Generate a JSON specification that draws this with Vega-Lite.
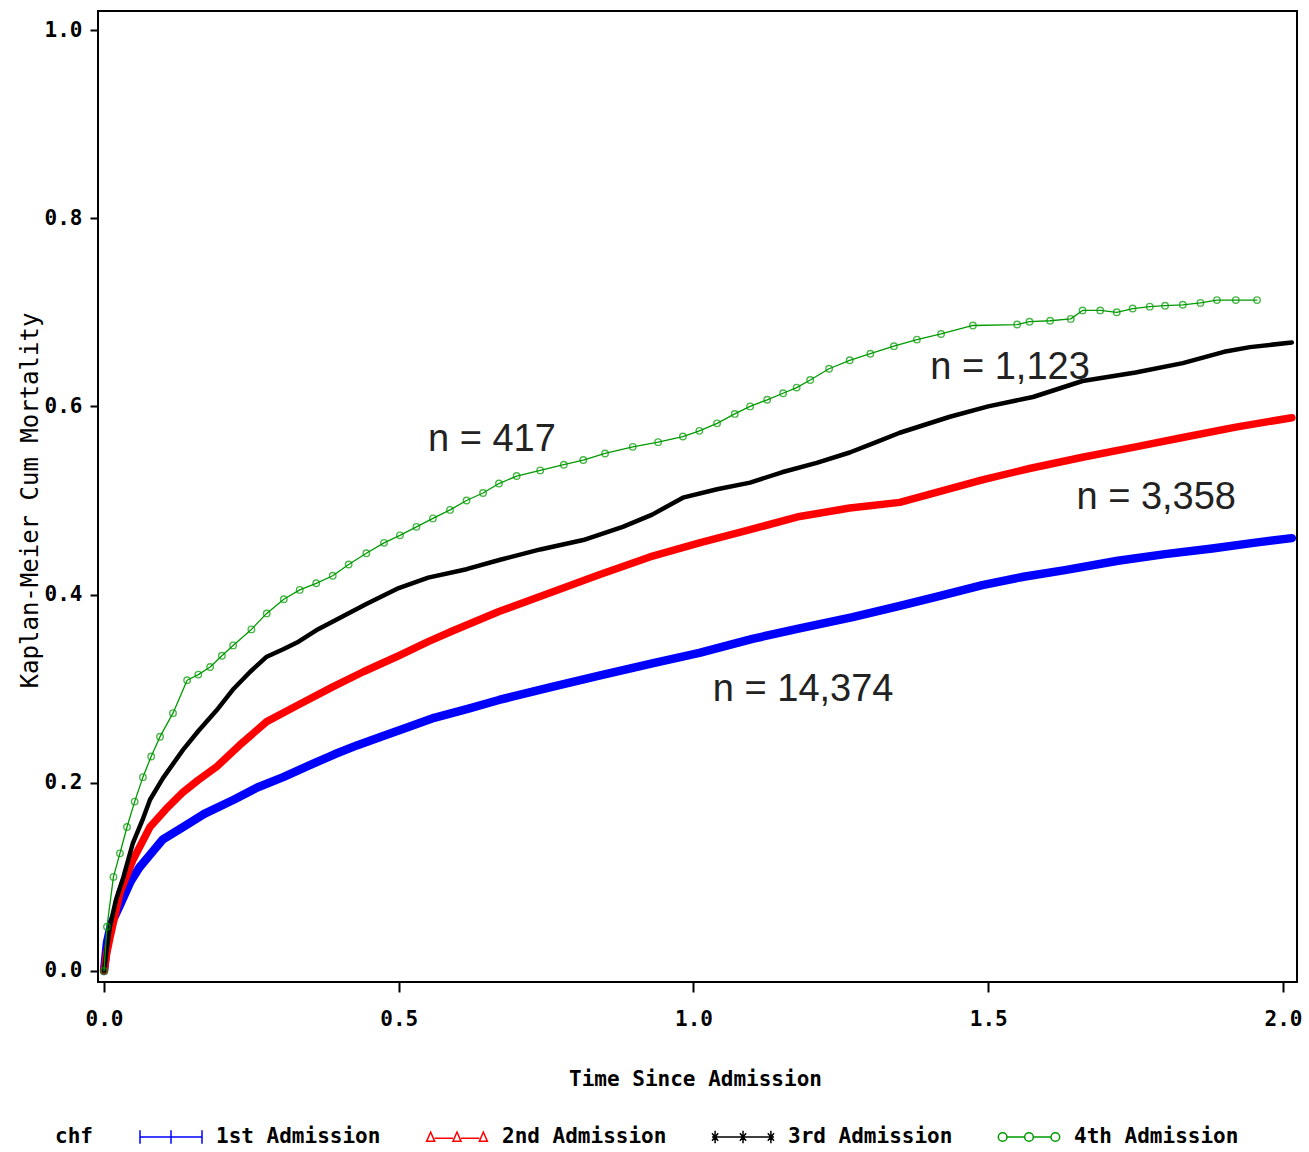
{
  "$schema": "https://vega.github.io/schema/vega-lite/v6.json",
  "width": 1199,
  "height": 971,
  "autosize": {"type": "none"},
  "padding": {"left": 98, "top": 11, "right": 12, "bottom": 170},
  "background": "white",
  "config": {
    "view": {"stroke": "black", "strokeWidth": 2},
    "axis": {
      "domain": false,
      "grid": false,
      "tickColor": "black",
      "tickWidth": 2,
      "labelFont": "DejaVu Sans Mono",
      "labelFontWeight": "bold",
      "labelFontSize": 21,
      "labelColor": "black",
      "titleFont": "DejaVu Sans Mono",
      "titleColor": "black"
    }
  },
  "datasets": {
    "km": [
      {"s": "1st Admission", "t": 0, "v": 0},
      {"s": "1st Admission", "t": 0.005, "v": 0.03},
      {"s": "1st Admission", "t": 0.012, "v": 0.05},
      {"s": "1st Admission", "t": 0.027, "v": 0.07},
      {"s": "1st Admission", "t": 0.045, "v": 0.095},
      {"s": "1st Admission", "t": 0.06, "v": 0.11},
      {"s": "1st Admission", "t": 0.08, "v": 0.125},
      {"s": "1st Admission", "t": 0.1, "v": 0.14},
      {"s": "1st Admission", "t": 0.134, "v": 0.153},
      {"s": "1st Admission", "t": 0.17, "v": 0.167},
      {"s": "1st Admission", "t": 0.22, "v": 0.182},
      {"s": "1st Admission", "t": 0.26, "v": 0.195},
      {"s": "1st Admission", "t": 0.304, "v": 0.206},
      {"s": "1st Admission", "t": 0.35, "v": 0.219},
      {"s": "1st Admission", "t": 0.39, "v": 0.23},
      {"s": "1st Admission", "t": 0.43, "v": 0.24},
      {"s": "1st Admission", "t": 0.47, "v": 0.249},
      {"s": "1st Admission", "t": 0.52, "v": 0.26},
      {"s": "1st Admission", "t": 0.56, "v": 0.269},
      {"s": "1st Admission", "t": 0.62, "v": 0.279},
      {"s": "1st Admission", "t": 0.67, "v": 0.288},
      {"s": "1st Admission", "t": 0.76, "v": 0.302},
      {"s": "1st Admission", "t": 0.84, "v": 0.314},
      {"s": "1st Admission", "t": 0.93, "v": 0.327},
      {"s": "1st Admission", "t": 1.01, "v": 0.338},
      {"s": "1st Admission", "t": 1.1, "v": 0.353},
      {"s": "1st Admission", "t": 1.18, "v": 0.364},
      {"s": "1st Admission", "t": 1.27, "v": 0.376},
      {"s": "1st Admission", "t": 1.35, "v": 0.388},
      {"s": "1st Admission", "t": 1.42, "v": 0.399},
      {"s": "1st Admission", "t": 1.49, "v": 0.41},
      {"s": "1st Admission", "t": 1.56, "v": 0.419},
      {"s": "1st Admission", "t": 1.63, "v": 0.426},
      {"s": "1st Admission", "t": 1.72, "v": 0.436},
      {"s": "1st Admission", "t": 1.8, "v": 0.443},
      {"s": "1st Admission", "t": 1.88, "v": 0.449},
      {"s": "1st Admission", "t": 1.95, "v": 0.455},
      {"s": "1st Admission", "t": 2.015, "v": 0.46},

      {"s": "2nd Admission", "t": 0, "v": 0},
      {"s": "2nd Admission", "t": 0.005, "v": 0.02},
      {"s": "2nd Admission", "t": 0.01, "v": 0.035},
      {"s": "2nd Admission", "t": 0.027, "v": 0.083},
      {"s": "2nd Admission", "t": 0.049, "v": 0.118},
      {"s": "2nd Admission", "t": 0.078, "v": 0.153},
      {"s": "2nd Admission", "t": 0.105, "v": 0.172},
      {"s": "2nd Admission", "t": 0.134, "v": 0.19},
      {"s": "2nd Admission", "t": 0.16, "v": 0.203},
      {"s": "2nd Admission", "t": 0.191, "v": 0.217},
      {"s": "2nd Admission", "t": 0.23, "v": 0.24},
      {"s": "2nd Admission", "t": 0.276, "v": 0.265},
      {"s": "2nd Admission", "t": 0.33, "v": 0.283},
      {"s": "2nd Admission", "t": 0.388, "v": 0.302},
      {"s": "2nd Admission", "t": 0.44, "v": 0.318},
      {"s": "2nd Admission", "t": 0.5, "v": 0.335},
      {"s": "2nd Admission", "t": 0.55, "v": 0.35},
      {"s": "2nd Admission", "t": 0.59, "v": 0.361},
      {"s": "2nd Admission", "t": 0.67, "v": 0.382},
      {"s": "2nd Admission", "t": 0.757, "v": 0.402},
      {"s": "2nd Admission", "t": 0.84, "v": 0.421},
      {"s": "2nd Admission", "t": 0.926, "v": 0.44},
      {"s": "2nd Admission", "t": 1.01, "v": 0.455},
      {"s": "2nd Admission", "t": 1.096, "v": 0.469},
      {"s": "2nd Admission", "t": 1.18, "v": 0.483},
      {"s": "2nd Admission", "t": 1.265, "v": 0.492},
      {"s": "2nd Admission", "t": 1.35, "v": 0.498},
      {"s": "2nd Admission", "t": 1.42, "v": 0.51},
      {"s": "2nd Admission", "t": 1.49, "v": 0.522},
      {"s": "2nd Admission", "t": 1.57, "v": 0.534},
      {"s": "2nd Admission", "t": 1.66, "v": 0.546},
      {"s": "2nd Admission", "t": 1.75, "v": 0.557},
      {"s": "2nd Admission", "t": 1.83, "v": 0.567},
      {"s": "2nd Admission", "t": 1.92, "v": 0.578},
      {"s": "2nd Admission", "t": 2.015, "v": 0.588},

      {"s": "3rd Admission", "t": 0, "v": 0},
      {"s": "3rd Admission", "t": 0.005, "v": 0.025},
      {"s": "3rd Admission", "t": 0.01, "v": 0.047},
      {"s": "3rd Admission", "t": 0.02, "v": 0.075},
      {"s": "3rd Admission", "t": 0.033, "v": 0.1},
      {"s": "3rd Admission", "t": 0.049, "v": 0.136},
      {"s": "3rd Admission", "t": 0.065, "v": 0.16},
      {"s": "3rd Admission", "t": 0.078, "v": 0.182},
      {"s": "3rd Admission", "t": 0.1, "v": 0.205},
      {"s": "3rd Admission", "t": 0.134, "v": 0.235},
      {"s": "3rd Admission", "t": 0.16, "v": 0.255},
      {"s": "3rd Admission", "t": 0.191, "v": 0.277},
      {"s": "3rd Admission", "t": 0.22, "v": 0.3},
      {"s": "3rd Admission", "t": 0.248, "v": 0.318},
      {"s": "3rd Admission", "t": 0.276, "v": 0.334},
      {"s": "3rd Admission", "t": 0.304, "v": 0.342},
      {"s": "3rd Admission", "t": 0.33, "v": 0.35},
      {"s": "3rd Admission", "t": 0.36, "v": 0.362},
      {"s": "3rd Admission", "t": 0.39, "v": 0.372},
      {"s": "3rd Admission", "t": 0.445, "v": 0.39},
      {"s": "3rd Admission", "t": 0.5, "v": 0.407},
      {"s": "3rd Admission", "t": 0.55, "v": 0.418},
      {"s": "3rd Admission", "t": 0.615, "v": 0.427},
      {"s": "3rd Admission", "t": 0.672, "v": 0.437},
      {"s": "3rd Admission", "t": 0.74, "v": 0.448},
      {"s": "3rd Admission", "t": 0.813, "v": 0.458},
      {"s": "3rd Admission", "t": 0.88, "v": 0.472},
      {"s": "3rd Admission", "t": 0.93, "v": 0.485},
      {"s": "3rd Admission", "t": 0.982, "v": 0.503},
      {"s": "3rd Admission", "t": 1.04, "v": 0.512},
      {"s": "3rd Admission", "t": 1.096, "v": 0.519},
      {"s": "3rd Admission", "t": 1.15, "v": 0.53},
      {"s": "3rd Admission", "t": 1.209, "v": 0.54},
      {"s": "3rd Admission", "t": 1.265, "v": 0.551},
      {"s": "3rd Admission", "t": 1.31, "v": 0.562},
      {"s": "3rd Admission", "t": 1.35, "v": 0.572},
      {"s": "3rd Admission", "t": 1.435, "v": 0.589},
      {"s": "3rd Admission", "t": 1.5, "v": 0.6},
      {"s": "3rd Admission", "t": 1.576, "v": 0.61},
      {"s": "3rd Admission", "t": 1.66, "v": 0.627},
      {"s": "3rd Admission", "t": 1.75, "v": 0.636},
      {"s": "3rd Admission", "t": 1.83, "v": 0.646},
      {"s": "3rd Admission", "t": 1.9, "v": 0.658},
      {"s": "3rd Admission", "t": 1.944, "v": 0.663},
      {"s": "3rd Admission", "t": 2.015, "v": 0.668},

      {"s": "4th Admission", "t": 0, "v": 0},
      {"s": "4th Admission", "t": 0.005, "v": 0.047},
      {"s": "4th Admission", "t": 0.016, "v": 0.1},
      {"s": "4th Admission", "t": 0.027, "v": 0.125},
      {"s": "4th Admission", "t": 0.039, "v": 0.153},
      {"s": "4th Admission", "t": 0.052, "v": 0.18},
      {"s": "4th Admission", "t": 0.066, "v": 0.206},
      {"s": "4th Admission", "t": 0.08, "v": 0.228},
      {"s": "4th Admission", "t": 0.095, "v": 0.249},
      {"s": "4th Admission", "t": 0.117, "v": 0.274},
      {"s": "4th Admission", "t": 0.141, "v": 0.309},
      {"s": "4th Admission", "t": 0.16, "v": 0.315},
      {"s": "4th Admission", "t": 0.18, "v": 0.323},
      {"s": "4th Admission", "t": 0.2, "v": 0.335},
      {"s": "4th Admission", "t": 0.219, "v": 0.346},
      {"s": "4th Admission", "t": 0.25, "v": 0.363},
      {"s": "4th Admission", "t": 0.276, "v": 0.38},
      {"s": "4th Admission", "t": 0.305, "v": 0.395},
      {"s": "4th Admission", "t": 0.332, "v": 0.405},
      {"s": "4th Admission", "t": 0.36, "v": 0.412},
      {"s": "4th Admission", "t": 0.388, "v": 0.42},
      {"s": "4th Admission", "t": 0.415, "v": 0.432},
      {"s": "4th Admission", "t": 0.445, "v": 0.444},
      {"s": "4th Admission", "t": 0.475, "v": 0.455},
      {"s": "4th Admission", "t": 0.502, "v": 0.463},
      {"s": "4th Admission", "t": 0.53, "v": 0.472},
      {"s": "4th Admission", "t": 0.558, "v": 0.481},
      {"s": "4th Admission", "t": 0.587, "v": 0.49},
      {"s": "4th Admission", "t": 0.615, "v": 0.5},
      {"s": "4th Admission", "t": 0.643, "v": 0.508},
      {"s": "4th Admission", "t": 0.67, "v": 0.518},
      {"s": "4th Admission", "t": 0.7, "v": 0.526},
      {"s": "4th Admission", "t": 0.74, "v": 0.532},
      {"s": "4th Admission", "t": 0.78, "v": 0.538},
      {"s": "4th Admission", "t": 0.813, "v": 0.543},
      {"s": "4th Admission", "t": 0.85, "v": 0.55},
      {"s": "4th Admission", "t": 0.897, "v": 0.557},
      {"s": "4th Admission", "t": 0.94, "v": 0.562},
      {"s": "4th Admission", "t": 0.982, "v": 0.568},
      {"s": "4th Admission", "t": 1.01, "v": 0.574},
      {"s": "4th Admission", "t": 1.04, "v": 0.582},
      {"s": "4th Admission", "t": 1.07, "v": 0.592},
      {"s": "4th Admission", "t": 1.096, "v": 0.6},
      {"s": "4th Admission", "t": 1.125, "v": 0.607},
      {"s": "4th Admission", "t": 1.152, "v": 0.614},
      {"s": "4th Admission", "t": 1.175, "v": 0.62},
      {"s": "4th Admission", "t": 1.198, "v": 0.628},
      {"s": "4th Admission", "t": 1.23, "v": 0.64},
      {"s": "4th Admission", "t": 1.265, "v": 0.649},
      {"s": "4th Admission", "t": 1.3, "v": 0.656},
      {"s": "4th Admission", "t": 1.34, "v": 0.664},
      {"s": "4th Admission", "t": 1.379, "v": 0.671},
      {"s": "4th Admission", "t": 1.42, "v": 0.677},
      {"s": "4th Admission", "t": 1.474, "v": 0.686},
      {"s": "4th Admission", "t": 1.549, "v": 0.687},
      {"s": "4th Admission", "t": 1.57, "v": 0.69},
      {"s": "4th Admission", "t": 1.605, "v": 0.691},
      {"s": "4th Admission", "t": 1.64, "v": 0.693},
      {"s": "4th Admission", "t": 1.66, "v": 0.702},
      {"s": "4th Admission", "t": 1.69, "v": 0.702},
      {"s": "4th Admission", "t": 1.718, "v": 0.7},
      {"s": "4th Admission", "t": 1.745, "v": 0.704},
      {"s": "4th Admission", "t": 1.774, "v": 0.706},
      {"s": "4th Admission", "t": 1.8, "v": 0.707},
      {"s": "4th Admission", "t": 1.83, "v": 0.708},
      {"s": "4th Admission", "t": 1.86, "v": 0.71},
      {"s": "4th Admission", "t": 1.888, "v": 0.713},
      {"s": "4th Admission", "t": 1.92, "v": 0.713},
      {"s": "4th Admission", "t": 1.956, "v": 0.713}
    ],
    "notes": [
      {"t": 0.658, "v": 0.564, "text": "n = 417"},
      {"t": 1.537, "v": 0.641, "text": "n = 1,123"},
      {"t": 1.785, "v": 0.503, "text": "n = 3,358"},
      {"t": 1.186, "v": 0.299, "text": "n = 14,374"}
    ]
  },
  "encoding": {
    "x": {
      "field": "t", "type": "quantitative",
      "scale": {"domain": [-0.0102, 2.0238], "nice": false, "zero": false},
      "axis": {
        "values": [0, 0.5, 1, 1.5, 2], "format": ".1f",
        "tickSize": 10, "labelPadding": 16,
        "title": "Time Since Admission",
        "titleFontSize": 21, "titleFontWeight": "bold",
        "titleX": 597, "titleY": 97, "titleBaseline": "middle"
      }
    },
    "y": {
      "field": "v", "type": "quantitative",
      "scale": {"domain": [-0.0117, 1.0202], "nice": false, "zero": false},
      "axis": {
        "values": [0, 0.2, 0.4, 0.6, 0.8, 1.0], "format": ".1f",
        "tickSize": 8, "labelPadding": 8,
        "title": "Kaplan-Meier Cum Mortality",
        "titleFontSize": 24, "titleFontWeight": "normal",
        "titleX": -68, "titleY": 489, "titleAngle": -90,
        "titleAlign": "center", "titleBaseline": "middle"
      }
    }
  },
  "layer": [
    {
      "data": {"name": "km"},
      "transform": [{"filter": "datum.s === '1st Admission'"}],
      "mark": {"type": "line", "clip": true, "strokeWidth": 8.5, "strokeCap": "round", "strokeJoin": "round"},
      "encoding": {
        "color": {
          "field": "s", "type": "nominal",
          "scale": {
            "domain": ["1st Admission", "2nd Admission", "3rd Admission", "4th Admission"],
            "range": ["#0000ff", "#ff0000", "#000000", "#009a00"]
          },
          "legend": {
            "title": "chf",
            "orient": "none",
            "legendX": -43,
            "legendY": 1094,
            "direction": "horizontal",
            "titleOrient": "left",
            "titleAnchor": "middle",
            "titleFont": "DejaVu Sans Mono",
            "titleFontSize": 21,
            "titleFontWeight": "bold",
            "titleColor": "black",
            "titleBaseline": "top",
            "titlePadding": 46,
            "labelFont": "DejaVu Sans Mono",
            "labelFontSize": 21,
            "labelFontWeight": "bold",
            "labelColor": "black",
            "labelLimit": 400,
            "symbolSize": 3844,
            "symbolStrokeWidth": 1.5,
            "labelOffset": 13,
            "columnPadding": 42,
            "encode": {
              "symbols": {
                "update": {
                  "shape": {"signal": "datum.value === '1st Admission' ? 'M-1,0H1M-1,-0.22V0.22M0,-0.22V0.22M1,-0.22V0.22' : datum.value === '2nd Admission' ? 'M-0.72,0.04H-0.13M0.13,0.04H0.72M-0.98,0.14L-0.85,-0.16L-0.72,0.14ZM-0.13,0.14L0,-0.16L0.13,0.14ZM0.72,0.14L0.85,-0.16L0.98,0.14Z' : datum.value === '3rd Admission' ? 'M-1,0H1M-0.9,-0.2V0.2M-1,-0.12L-0.8,0.12M-1,0.12L-0.8,-0.12M0,-0.2V0.2M-0.1,-0.12L0.1,0.12M-0.1,0.12L0.1,-0.12M0.9,-0.2V0.2M0.8,-0.12L1,0.12M0.8,0.12L1,-0.12' : 'M-0.71,0H-0.14M0.14,0H0.71M-0.71,0A0.14,0.14 0 1,0 -0.99,0A0.14,0.14 0 1,0 -0.71,0M0.14,0A0.14,0.14 0 1,0 -0.14,0A0.14,0.14 0 1,0 0.14,0M0.99,0A0.14,0.14 0 1,0 0.71,0A0.14,0.14 0 1,0 0.99,0'"},
                  "fill": {"value": "transparent"},
                  "stroke": {"scale": "color", "field": "value"},
                  "strokeWidth": {"value": 1.5}
                }
              }
            }
          }
        }
      }
    },
    {
      "data": {"name": "km"},
      "transform": [{"filter": "datum.s === '2nd Admission'"}],
      "mark": {"type": "line", "clip": true, "strokeWidth": 7.5, "strokeCap": "round", "strokeJoin": "round"},
      "encoding": {"color": {"field": "s", "type": "nominal"}}
    },
    {
      "data": {"name": "km"},
      "transform": [{"filter": "datum.s === '3rd Admission'"}],
      "mark": {"type": "line", "clip": true, "strokeWidth": 4.5, "strokeCap": "round", "strokeJoin": "round"},
      "encoding": {"color": {"field": "s", "type": "nominal"}}
    },
    {
      "data": {"name": "km"},
      "transform": [{"filter": "datum.s === '4th Admission'"}],
      "mark": {"type": "line", "clip": true, "strokeWidth": 1.3, "strokeCap": "round", "strokeJoin": "round"},
      "encoding": {"color": {"field": "s", "type": "nominal"}}
    },
    {
      "data": {"name": "km"},
      "transform": [{"filter": "datum.s === '4th Admission'"}],
      "mark": {"type": "point", "shape": "circle", "filled": false, "color": "#009a00", "size": 42, "strokeWidth": 1.4, "clip": true},
      "encoding": {}
    },
    {
      "data": {"name": "notes"},
      "mark": {"type": "text", "font": "Liberation Sans", "fontSize": 38, "color": "#222222", "align": "center", "baseline": "middle"},
      "encoding": {
        "text": {"field": "text"}
      }
    }
  ]
}
